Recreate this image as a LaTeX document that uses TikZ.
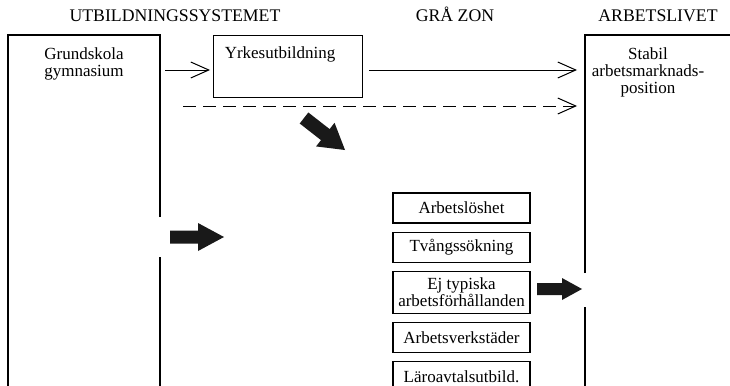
\documentclass[tikz,border=0pt]{standalone}
\usepackage{fontspec}
\setmainfont{Liberation Serif}
\usepackage{tikz}
\usetikzlibrary{arrows.meta,positioning}

\begin{document}
\begin{tikzpicture}[x=0.75pt,y=-0.75pt,
	every node/.style={font=\fontsize{12.75}{13}\selectfont},
	zone/.style={anchor=base, font=\fontsize{13.3}{14}\selectfont},
	colbox/.style={line width=1pt},
	smallbox/.style={draw, line width=0.9pt, minimum width=102.75pt, minimum height=22.5pt, inner sep=1pt, align=center},
	thin/.style={line width=0.75pt, -{Straight Barb[length=13.5pt,width=12pt]}},
	fat/.style={fill=black!90}]
	
	\useasboundingbox (0,0) rectangle (730,385);
	
	% rubriker
	\node[zone] (utb) at (175,22) {UTBILDNINGSSYSTEMET};
	\node[zone] (gra) at (455,22) {GRÅ ZON};
	\node[zone] (arb) at (658,22) {ARBETSLIVET};
	
	% utbildningssystemet
	\draw[colbox] (160,217) -- (160,35) -- (8,35) -- (8,390);
	\draw[colbox] (160,257) -- (160,390);
	\node[anchor=north, inner sep=0pt, align=center] (grund) at (84,47) {Grundskola\\gymnasium};
	
	\node[draw, line width=1pt, minimum width=111.75pt, minimum height=46.5pt, anchor=north west] (yrkes) at (213,35) {};
	\node[anchor=base] (yrkestext) at (280,59) {Yrkesutbildning};
	
	% arbetslivet
	\draw[colbox] (585,273) -- (585,35) -- (735,35);
	\draw[colbox] (585,307) -- (585,390);
	\node[anchor=north, inner sep=0pt, align=center] (stabil) at (648,47) {Stabil\\arbetsmarknads-\\position};
	
	% gra zon
	\node[smallbox] (loshet) at (461.5,208) {Arbetslöshet};
	\node[smallbox, below=6pt of loshet] (tvang) {Tvångssökning};
	\node[smallbox, below=6pt of tvang, minimum height=31.5pt] (ejtyp) {Ej typiska\\arbetsförhållanden};
	\node[smallbox, below=6pt of ejtyp] (verk) {Arbetsverkstäder};
	\node[smallbox, below=6pt of verk] (laro) {Läroavtalsutbild.};
	
	\coordinate (g1) at (165,70);
	\coordinate (s1) at (577,70);
	\coordinate (d0) at (183,106);
	\coordinate (d1) at (577,106);
	
	\draw[thin, shorten >=2.25pt] (g1) -- (g1 -| yrkes.west);
	\draw[thin, shorten <=4.5pt] (yrkes.east |- g1) -- (s1);
	\draw[thin, dash pattern=on 10pt off 5pt] (d0) -- (d1);
	
	% tjocka pilar
	\fill[fat] (170,230.5) -- (198,230.5) -- (198,223) -- (224,237) -- (198,251) -- (198,243.5) -- (170,243.5) -- cycle;
	\fill[fat] (537,283) -- (562,283) -- (562,278) -- (582,289) -- (562,300) -- (562,295) -- (537,295) -- cycle;
	\begin{scope}[shift={(345,150)}, rotate=-38]
		\fill[fat] (0,0) -- (-25,-15) -- (-25,-7) -- (-52,-7) -- (-52,7) -- (-25,7) -- (-25,15) -- cycle;
	\end{scope}
	
\end{tikzpicture}
\end{document}
